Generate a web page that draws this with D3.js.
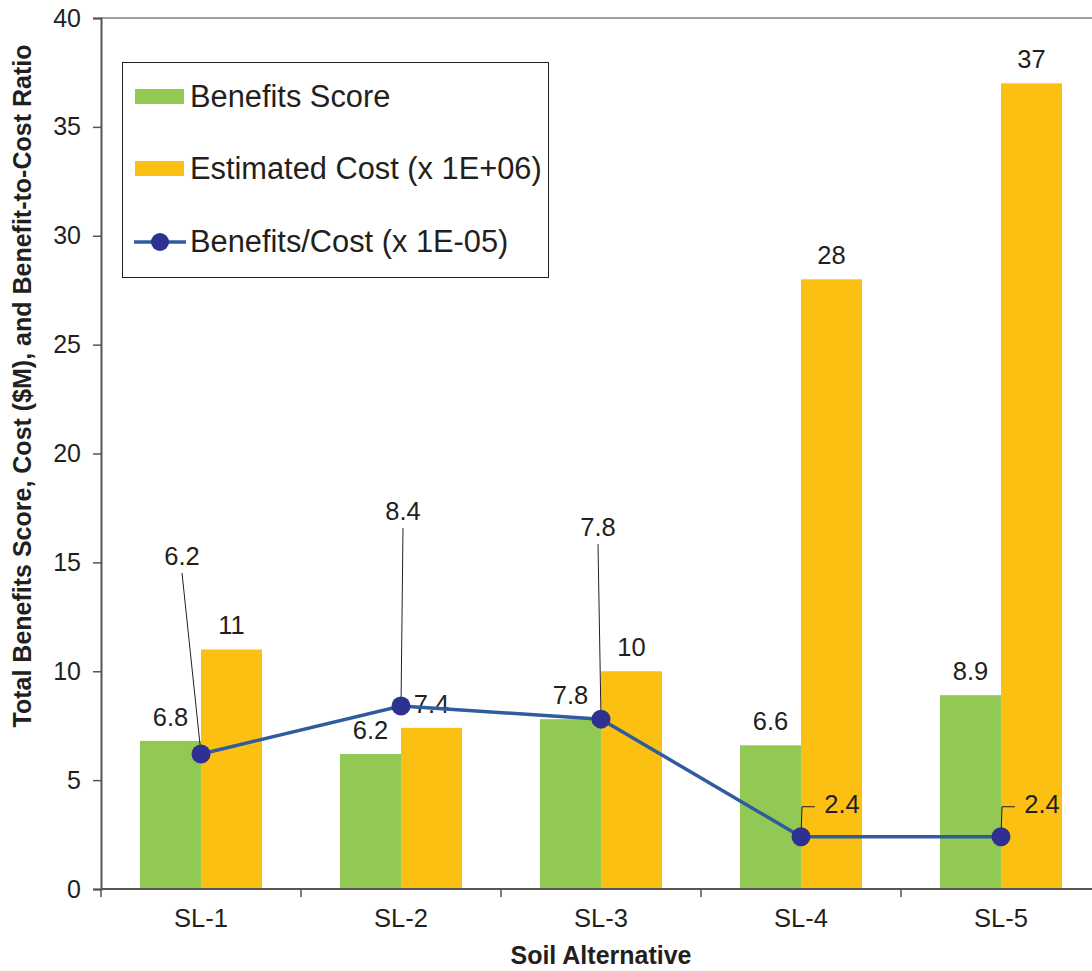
<!DOCTYPE html>
<html><head><meta charset="utf-8">
<script src="https://cdn.jsdelivr.net/npm/d3@7"></script>
<style>body{margin:0;background:#fff}text{font-family:"Liberation Sans",Arial,sans-serif;fill:#231F20}</style>
</head><body><svg id="c" width="1092" height="971"></svg>
<script>
const categories = ["SL-1","SL-2","SL-3","SL-4","SL-5"];
const benefits = [6.8, 6.2, 7.8, 6.6, 8.9];
const cost = [11, 7.4, 10, 28, 37];
const ratio = [6.2, 8.4, 7.8, 2.4, 2.4];
const yTicks = [0,5,10,15,20,25,30,35,40];
const seriesNames = ["Benefits Score","Estimated Cost (x 1E+06)","Benefits/Cost (x 1E-05)"];
// label placement for ratio labels: [dx, dy from point to label center, leader type]
const ratioLabelOffsets = [[-19,-198,"line"],[2,-195,"line"],[-3,-192,"line"],[41,-33,"elbow"],[41,-33,"elbow"]];

const svg = d3.select("#c");
const m = {l:101, t:18, r:-9, b:82};
const W = 1092 - m.l - m.r, H = 971 - m.t - m.b;
const g = svg.append("g").attr("transform",`translate(${m.l},${m.t})`);
const x = d3.scaleBand().domain(categories).range([0,W]);
const y = d3.scaleLinear().domain([0,40]).range([H,0]);
const bw = 61;
const green="#92C955", orange="#FCC012", blue="#2E5C9E", navy="#2E3192";
const fs = "25.5px";

// top border
g.append("line").attr("x1",0).attr("x2",W).attr("y1",0).attr("y2",0).attr("stroke","#A0A0A0").attr("stroke-width",2);

// bars
g.selectAll(".b").data(benefits).join("rect")
  .attr("x",(d,i)=>x(categories[i])+x.bandwidth()/2-bw).attr("width",bw)
  .attr("y",d=>y(d)).attr("height",d=>H-y(d)).attr("fill",green);
g.selectAll(".c").data(cost).join("rect")
  .attr("x",(d,i)=>x(categories[i])+x.bandwidth()/2).attr("width",bw)
  .attr("y",d=>y(d)).attr("height",d=>H-y(d)).attr("fill",orange);

// axes
const ya = g.append("g").call(d3.axisLeft(y).tickValues(yTicks).tickSize(8).tickPadding(12));
ya.select(".domain").attr("stroke","#555").attr("stroke-width",2);
ya.selectAll(".tick line").attr("stroke","#555").attr("stroke-width",1.5);
ya.selectAll("text").style("font-size","25px").attr("fill","#231F20");
const xb = g.append("g").attr("transform",`translate(0,${H})`);
xb.append("line").attr("x1",0).attr("x2",W).attr("stroke","#555").attr("stroke-width",2);
xb.selectAll(".t").data(categories.concat(["end"])).join("line")
  .attr("x1",(d,i)=>i*x.bandwidth()).attr("x2",(d,i)=>i*x.bandwidth()).attr("y1",0).attr("y2",8)
  .attr("stroke","#555").attr("stroke-width",1.5);
xb.selectAll(".l").data(categories).join("text")
  .attr("x",d=>x(d)+x.bandwidth()/2).attr("y",38).attr("text-anchor","middle")
  .style("font-size",fs).text(d=>d);

// bar labels
g.selectAll(".bl").data(benefits).join("text")
  .attr("x",(d,i)=>x(categories[i])+x.bandwidth()/2-bw/2).attr("y",d=>y(d)-15)
  .attr("text-anchor","middle").style("font-size",fs).text(d=>d);
g.selectAll(".cl").data(cost).join("text")
  .attr("x",(d,i)=>x(categories[i])+x.bandwidth()/2+bw/2).attr("y",d=>y(d)-15)
  .attr("text-anchor","middle").style("font-size",fs).text(d=>d);

// line
const cx = i=>x(categories[i])+x.bandwidth()/2;
g.append("path").datum(ratio).attr("fill","none").attr("stroke",blue).attr("stroke-width",3.5)
  .attr("d",d3.line().x((d,i)=>cx(i)).y(d=>y(d)));
// leaders + labels
ratio.forEach((d,i)=>{
  const px=cx(i), py=y(d), o=ratioLabelOffsets[i];
  const lx=px+o[0], ly=py+o[1];
  if(o[2]==="line"){
    g.append("line").attr("x1",lx).attr("y1",ly+17).attr("x2",px).attr("y2",py).attr("stroke","#231F20").attr("stroke-width",1);
    g.append("text").attr("x",lx).attr("y",ly+9).attr("text-anchor","middle").style("font-size",fs).text(d);
  } else {
    g.append("path").attr("d",`M${px},${py} L${px+1},${py-30} L${px+14},${py-30}`).attr("fill","none").attr("stroke","#231F20").attr("stroke-width",1);
    g.append("text").attr("x",lx).attr("y",ly+9).attr("text-anchor","middle").style("font-size",fs).text(d);
  }
});
g.selectAll(".pt").data(ratio).join("circle").attr("cx",(d,i)=>cx(i)).attr("cy",d=>y(d)).attr("r",9.5).attr("fill",navy);

// legend
const lg = svg.append("g");
lg.append("rect").attr("x",122.5).attr("y",62.5).attr("width",426).attr("height",215).attr("fill","#fff").attr("stroke","#231F20").attr("stroke-width",1);
lg.append("rect").attr("x",135).attr("y",89).attr("width",49).attr("height",15).attr("fill",green);
lg.append("rect").attr("x",135).attr("y",161).attr("width",49).attr("height",15).attr("fill",orange);
lg.append("line").attr("x1",134).attr("x2",186).attr("y1",242).attr("y2",242).attr("stroke",blue).attr("stroke-width",3.5);
lg.append("circle").attr("cx",160).attr("cy",242).attr("r",9).attr("fill",navy);
[107,179,252].forEach((yy,i)=>lg.append("text").attr("x",190).attr("y",yy).style("font-size","30.8px").text(seriesNames[i]));

// axis titles
svg.append("text").attr("x",601).attr("y",964).attr("text-anchor","middle").style("font-size","25px").style("font-weight","bold").text("Soil Alternative");
svg.append("text").attr("transform","translate(31,386) rotate(-90)").attr("text-anchor","middle").style("font-size","25px").style("font-weight","bold").text("Total Benefits Score, Cost ($M), and Benefit-to-Cost Ratio");
</script></body></html>
